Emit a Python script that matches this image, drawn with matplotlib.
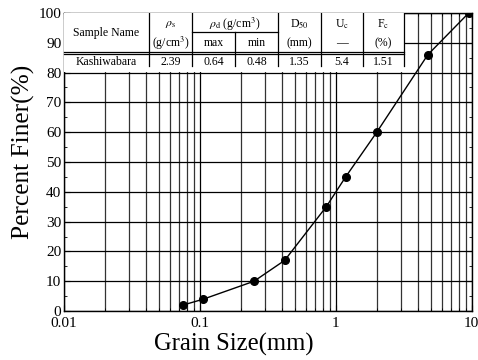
import numpy as np
import matplotlib
matplotlib.use('Agg')
import matplotlib.pyplot as plt
from matplotlib.ticker import LogLocator, FixedLocator, FuncFormatter, MultipleLocator

plt.rcParams['font.family'] = ['Liberation Serif', 'DejaVu Serif']
plt.rcParams['mathtext.fontset'] = 'stix'

# grain size distribution
grain_size = [0.075, 0.106, 0.25, 0.42, 0.85, 1.18, 2.0, 4.75, 9.5]
percent_finer = [2, 4, 10, 17, 35, 45, 60, 86, 100]

# table contents
col_headers = ['Sample Name', r'$\rho_{\rm s}$', r'$\rho_{\rm d}$ (g/cm$^3$)', r'D$_{50}$', r'U$_{\rm c}$', r'F$_{\rm c}$']
sub_headers = [r'(g/cm$^3$)', 'max', 'min', '(mm)', '\u2014', '(%)']
row_values = ['Kashiwabara', '2.39', '0.64', '0.48', '1.35', '5.4', '1.51']

fig = plt.figure(figsize=(4.78, 3.6), dpi=100)
ax = fig.add_axes([0.134, 0.136, 0.853, 0.828])

ax.set_xscale('log')
ax.set_xlim(0.01, 10)
ax.set_ylim(0, 100)

ax.xaxis.set_major_locator(FixedLocator([0.01, 0.1, 1, 10]))
ax.xaxis.set_minor_locator(LogLocator(base=10, subs=np.arange(2, 10)))
ax.xaxis.set_major_formatter(FuncFormatter(lambda v, p: f'{v:g}'))
ax.yaxis.set_major_locator(MultipleLocator(10))
ax.yaxis.set_minor_locator(MultipleLocator(5))

ax.grid(True, which='major', axis='both', color='black', linewidth=0.9)
ax.grid(True, which='minor', axis='x', color='#333333', linewidth=0.9)
ax.tick_params(which='both', direction='in', top=True, right=True, labelsize=11)
ax.tick_params(axis='x', pad=4.5)
ax.tick_params(axis='y', pad=2)
ax.tick_params(which='major', length=4)
ax.tick_params(which='minor', length=2.5)
for s in ax.spines.values():
    s.set_linewidth(1.0)

ax.plot(grain_size, percent_finer, 'k-', linewidth=1.0, zorder=5)
ax.plot(grain_size, percent_finer, 'ko', markersize=5.5, zorder=6)

ax.set_xlabel('Grain Size(mm)', fontsize=17.7)
ax.set_ylabel('Percent Finer(%)', fontsize=18.3)
ax.xaxis.set_label_coords(0.417, -0.074)
ax.yaxis.set_label_coords(-0.071, 0.533)

# table drawn in axes fraction
tr = ax.transAxes
t_right = 0.833
t_bottom = 0.802
ax.add_patch(plt.Rectangle((0, t_bottom), t_right, 1 - t_bottom, transform=tr,
                           facecolor='white', edgecolor='none', zorder=3))
col_x = [0.0, 0.208, 0.314, 0.419, 0.525, 0.630, 0.733, 0.833]
y_sub = 0.936
y_dbl1 = 0.869
y_dbl2 = 0.862
lw = 0.9
ax.plot([0, t_right], [y_dbl1, y_dbl1], transform=tr, color='black', lw=lw, zorder=4, clip_on=False)
ax.plot([0, t_right], [y_dbl2, y_dbl2], transform=tr, color='black', lw=lw, zorder=4, clip_on=False)
ax.plot([col_x[2], col_x[4]], [y_sub, y_sub], transform=tr, color='black', lw=lw, zorder=4)
for i, cx in enumerate(col_x[1:], start=1):
    if i == 3:
        y0 = y_sub
    else:
        y0 = 1.0
    ax.plot([cx, cx], [t_bottom + 0.02, y0], transform=tr, color='black', lw=lw, zorder=4)

# header text
hx = [(col_x[0] + col_x[1]) / 2, (col_x[1] + col_x[2]) / 2, (col_x[2] + col_x[4]) / 2,
      (col_x[4] + col_x[5]) / 2, (col_x[5] + col_x[6]) / 2, (col_x[6] + col_x[7]) / 2]
fs = 8.5
ax.text(hx[0], 0.933, col_headers[0], transform=tr, ha='center', va='center', fontsize=fs, zorder=5)
for x, h in zip(hx[1:], col_headers[1:]):
    ax.text(x, 0.962, h, transform=tr, ha='center', va='center', fontsize=fs, zorder=5)
sx = [(col_x[1] + col_x[2]) / 2, (col_x[2] + col_x[3]) / 2, (col_x[3] + col_x[4]) / 2,
      (col_x[4] + col_x[5]) / 2, (col_x[5] + col_x[6]) / 2, (col_x[6] + col_x[7]) / 2]
for x, h in zip(sx, sub_headers):
    ax.text(x, 0.899, h, transform=tr, ha='center', va='center', fontsize=fs, zorder=5)
rx = [(col_x[i] + col_x[i + 1]) / 2 for i in range(7)]
for x, v in zip(rx, row_values):
    ax.text(x, 0.834, v, transform=tr, ha='center', va='center', fontsize=fs, zorder=5)

fig.savefig('out.png', dpi=100)
